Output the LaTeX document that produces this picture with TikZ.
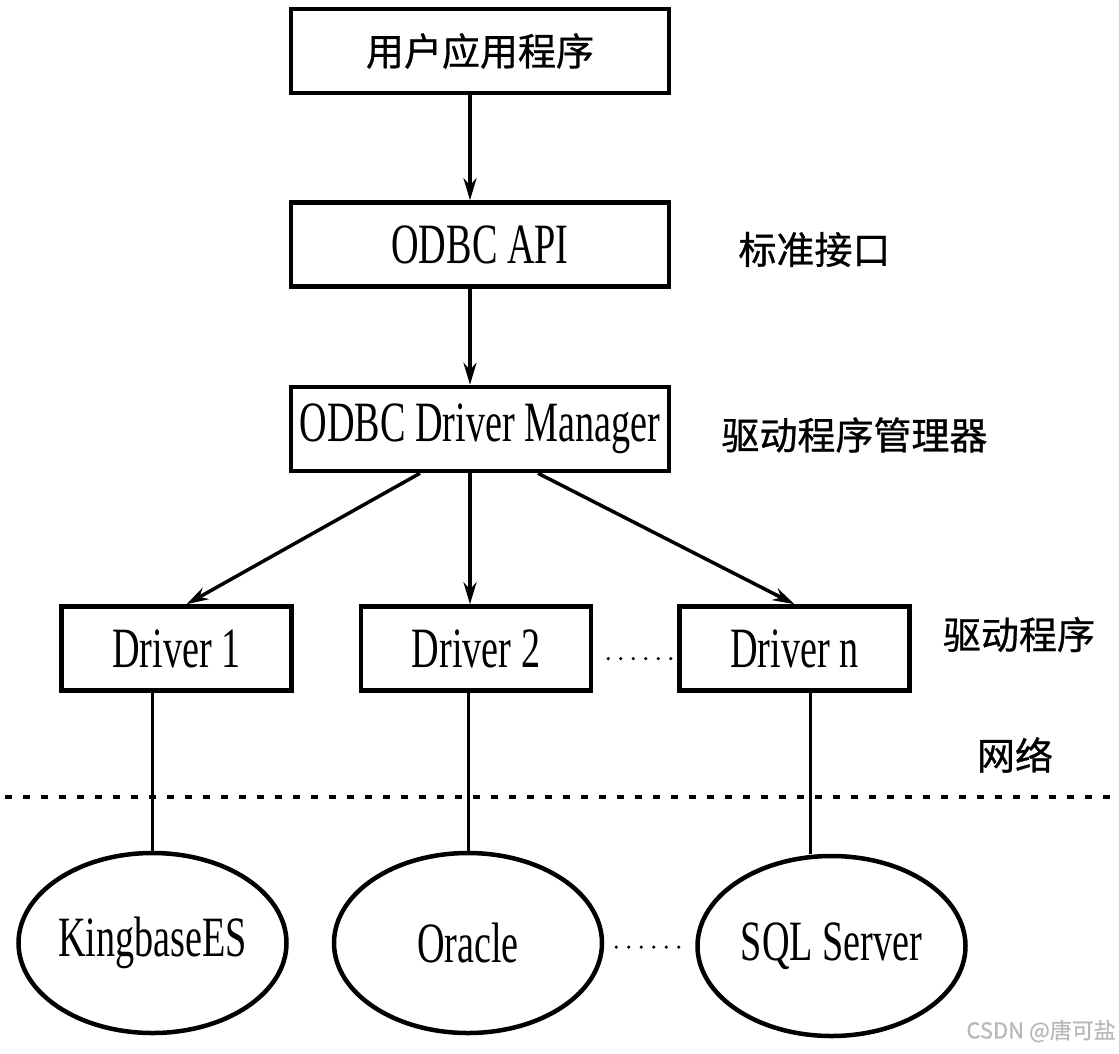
\documentclass[tikz,border=0pt]{standalone}
\usepackage{fontspec}
\setmainfont{Liberation Serif}[FakeStretch=0.67]
\newfontfamily\cjk{Noto Sans CJK SC}[FakeBold=0.8]
\usetikzlibrary{arrows.meta,positioning,shapes.geometric}

\begin{document}
\begin{tikzpicture}[
	x=1pt, y=-1pt,
	box/.style={draw, line width=4.5pt, minimum height=84pt, inner sep=0pt, font=\fontsize{57}{60}\selectfont},
	layer/.style={box, minimum width=378pt},
	drv/.style={box, minimum width=230pt},
	db/.style={draw, ellipse, line width=4.5pt, minimum width=268pt, minimum height=180pt, inner sep=0pt, font=\fontsize{57}{60}\selectfont},
	note/.style={inner sep=0pt, font=\cjk\fontsize{38}{40}\selectfont},
	arrow/.style={-{Stealth[length=22pt,width=13pt]}, line width=3.5pt},
	link/.style={line width=3pt},
	dots/.style={line width=3.5pt, line cap=round, dash pattern=on 0pt off 12.5pt},
	netline/.style={line width=4pt, dash pattern=on 7pt off 11pt}
]
\useasboundingbox (0,0) rectangle (1119,1053);

% layers
\node[layer, font=\cjk\fontsize{38}{40}\selectfont] (app) at (480,51) {用户应用程序};
\node[layer, below=105pt of app] (api) {ODBC API};
\node[layer, below=96pt of api] (dm) {ODBC Driver Manager};

% drivers
\node[drv, below=131pt of dm, xshift=-4pt] (drv2) {Driver 2};
\node[drv, left=65pt of drv2] (drv1) {Driver 1};
\node[drv, right=84pt of drv2] (drvn) {Driver n};

% databases
\node[db, below=158pt of drv2, xshift=-8pt] (ora) {Oracle};
\node[db, left=43pt of ora] (kb) {KingbaseES};
\node[db, right=91pt of ora, yshift=-3pt] (sql) {SQL Server};

% side labels
\node[note, right=67pt of api, yshift=-5pt] (stdif) {标准接口};
\node[note, right=50pt of dm, yshift=-6pt] (mgr) {驱动程序管理器};
\node[note, right=31pt of drvn, yshift=14pt] (drvlbl) {驱动程序};
\node[note] (net) at (1015,755) {网络};

\draw[arrow] ([xshift=-10pt]app.south) -- ([xshift=-10pt]api.north);
\draw[arrow] ([xshift=-10pt]api.south) -- ([xshift=-10pt]dm.north);
\draw[arrow] ([xshift=-60pt]dm.south) -- ([xshift=10pt]drv1.north);
\draw[arrow] ([xshift=-10pt]dm.south) -- ([xshift=-10pt]dm.south |- drv2.north);
\draw[arrow] ([xshift=58pt]dm.south) -- (drvn.north);

\draw[link] (kb.north) -- (kb.north |- drv1.south);
\draw[link] (ora.north) -- (ora.north |- drv2.south);
\draw[link] ([xshift=-21pt]sql.north) -- ([xshift=-21pt]sql.north |- drvn.south);

\draw[dots, shorten <=15pt, shorten >=4pt] ([yshift=-10pt]drv2.east) -- ([yshift=-10pt]drv2.east -| drvn.west);
\draw[dots, shorten <=12pt, shorten >=10pt] ([yshift=-4pt]ora.east) -- ([yshift=-4pt]ora.east -| sql.west);

% network boundary
\coordinate (netL) at (5,797);
\coordinate (netR) at (1117,797);
\draw[netline] (netL) -- (netR);

\node[font=\cjk\fontsize{22}{24}\selectfont, text=gray!55, anchor=east, inner sep=0pt] (mark) at (1116,1031) {CSDN @唐可盐};
\end{tikzpicture}
\end{document}
